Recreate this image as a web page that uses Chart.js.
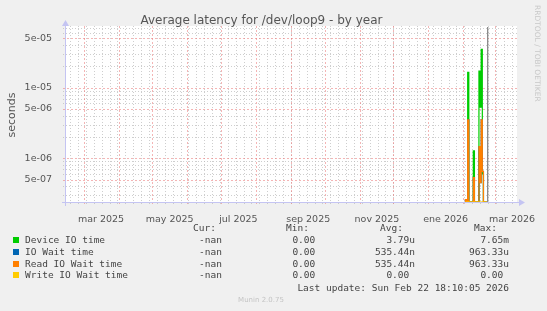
<!DOCTYPE html>
<html><head><meta charset="utf-8">
<script src="https://cdn.jsdelivr.net/npm/chart.js@4/dist/chart.umd.min.js"></script>
<style>html,body{margin:0;padding:0;background:#f0f0f0;}canvas{display:block;}</style>
</head><body>
<canvas id="c" width="547" height="311"></canvas>
<script>
// ---- data (x = end of each daily sample, in days since 2025-01-01) ----
const chartTitle = 'Average latency for /dev/loop9 - by year';
const yAxisTitle = 'seconds';
const monthStarts = [31, 59, 90, 120, 151, 181, 212, 243, 273, 304, 334, 365, 396, 424, 455];
const labelMonths = [59, 120, 181, 243, 304, 365, 424];
const tickLabels = ['mar 2025', 'may 2025', 'jul 2025', 'sep 2025', 'nov 2025', 'ene 2026', 'mar 2026'];
const yTickValues = [5e-5, 1e-5, 5e-6, 1e-6, 5e-7];
const yTickLabels = ['5e-05', '1e-05', '5e-06', '1e-06', '5e-07'];
const days      = [398, 399, 400, 401, 402, 403, 404, 405, 406, 407, 408, 409, 410, 411, 412, 413, 414, 415, 416, 417];
const deviceIO  = [0, 0, 0, 1.65e-5, 0, 0, 0, 0, 1.27e-6, 0, 0, 0, 0, 1.72e-5, 5.3e-6, 3.5e-5, 6e-7, 0, 0, 0];
const ioWait    = [0, 2.6e-7, 0, 3.5e-6, 0, 0, 0, 0, 5.3e-7, 0, 0, 0, 0, 1.46e-6, 4.5e-7, 3.5e-6, 6.5e-7, 0, 0, 0];
const readWait  = [0, 2.6e-7, 0, 3.5e-6, 0, 0, 0, 0, 5.3e-7, 0, 0, 0, 0, 1.46e-6, 4.5e-7, 3.5e-6, 6.5e-7, 0, 0, 0];
const writeWait = [0, 0, 0, 0, 0, 0, 0, 0, 0, 0, 0, 0, 0, 0, 0, 0, 0, 0, 0, 0];
const seriesNames = ['Device IO time', 'IO Wait time', 'Read IO Wait time', 'Write IO Wait time'];
const seriesColors = ['#00cc00', '#0066b3', '#ff8000', '#ffcc00'];
const curVals = ['-nan', '-nan', '-nan', '-nan'];
const minVals = ['0.00', '0.00', '0.00', '0.00'];
const avgVals = ['3.79u', '535.44n', '535.44n', '0.00'];
const maxVals = ['7.65m', '963.33u', '963.33u', '0.00'];
const lastUpdate = 'Last update: Sun Feb 22 18:10:05 2026';
const nowDay = 417.76;
const xRange = [43.3, 443.8];
const yRange = [2.4e-7, 7.48e-5];

// ---- styling ----
const LABEL_SHIFT = 15.4;
const FONT = 'DejaVu Sans';
const MONO = 'DejaVu Sans Mono';
const GRID_MINOR = 'rgba(185,185,185,0.7)';
const GRID_MAJOR = 'rgba(235,120,120,0.55)';
const AXIS_COL = '#c4c4f2';

const allSeries = [deviceIO, ioWait, readWait, writeWait];
// zero cannot be drawn on a log axis: it is placed on the axis floor, as rrdtool does
const datasets = allSeries.map((s, i) => ({
  label: seriesNames[i],
  data: days.map((d, j) => ({x: d, y: s[j] > 0 ? s[j] : yRange[0]})),
  borderColor: seriesColors[i],
  backgroundColor: seriesColors[i],
  borderWidth: 1.2,
  pointRadius: 0,
  stepped: 'after',
  order: 4 - i
}));

function seg(ctx, x1, y1, x2, y2) { ctx.beginPath(); ctx.moveTo(x1, y1); ctx.lineTo(x2, y2); ctx.stroke(); }

const deco = {
  id: 'deco',
  beforeDraw(chart) {
    const {ctx, chartArea: a} = chart;
    ctx.save();
    ctx.fillStyle = '#f0f0f0'; ctx.fillRect(0, 0, chart.width, chart.height);
    ctx.fillStyle = '#ffffff'; ctx.fillRect(a.left, a.top, a.right - a.left, a.bottom - a.top);
    ctx.restore();
  },
  beforeDatasetsDraw(chart) {
    const {ctx, chartArea: a, scales: {x, y}} = chart;
    ctx.save();
    ctx.lineWidth = 1;
    // minor vertical (weekly, Mondays)
    ctx.setLineDash([1, 2]);
    ctx.strokeStyle = GRID_MINOR;
    for (let d = 5; d <= x.max; d += 7) {
      if (d < x.min) continue;
      const px = Math.round(x.getPixelForValue(d)) + 0.5;
      seg(ctx, px, a.top, px, a.bottom + 3);
    }
    // minor horizontal
    for (let e = -8; e <= -4; e++) {
      for (const m of [2, 3, 4, 6, 7, 8, 9]) {
        const v = m * Math.pow(10, e);
        if (v < y.min || v > y.max) continue;
        const py = Math.round(y.getPixelForValue(v)) + 0.5;
        seg(ctx, a.left - 3, py, a.right, py);
      }
    }
    // major
    ctx.setLineDash([2, 2]);
    ctx.strokeStyle = GRID_MAJOR;
    for (const d of monthStarts) {
      if (d < x.min || d > x.max) continue;
      const px = Math.round(x.getPixelForValue(d)) + 0.5;
      seg(ctx, px, a.top, px, a.bottom + 3);
    }
    for (let e = -8; e <= -4; e++) {
      for (const m of [1, 5]) {
        const v = m * Math.pow(10, e);
        if (v < y.min || v > y.max) continue;
        const py = Math.round(y.getPixelForValue(v)) + 0.5;
        seg(ctx, a.left - 3, py, a.right + 1, py);
      }
    }
    ctx.restore();
  },
  afterDatasetsDraw(chart) {
    const {ctx, chartArea: a, scales: {x}} = chart;
    ctx.save();
    // now line
    ctx.strokeStyle = '#8a8a8a'; ctx.lineWidth = 1.3;
    const nx = x.getPixelForValue(nowDay);
    seg(ctx, nx, a.top + 1, nx, a.bottom);
    // axes
    ctx.strokeStyle = AXIS_COL; ctx.lineWidth = 1;
    seg(ctx, a.left - 4, a.bottom + 0.5, a.right + 3, a.bottom + 0.5);
    seg(ctx, a.left - 0.5, a.bottom + 4, a.left - 0.5, a.top - 1);
    ctx.fillStyle = AXIS_COL;
    ctx.beginPath(); ctx.moveTo(a.right + 8, a.bottom + 0.5); ctx.lineTo(a.right + 2, a.bottom - 3); ctx.lineTo(a.right + 2, a.bottom + 4); ctx.closePath(); ctx.fill();
    ctx.beginPath(); ctx.moveTo(a.left - 0.5, a.top - 6); ctx.lineTo(a.left - 4, a.top); ctx.lineTo(a.left + 3, a.top); ctx.closePath(); ctx.fill();
    ctx.restore();
  },
  afterDraw(chart) {
    const ctx = chart.ctx;
    ctx.save();
    // title
    ctx.fillStyle = '#555'; ctx.font = `12px "${FONT}"`; ctx.textAlign = 'center'; ctx.textBaseline = 'alphabetic';
    ctx.fillText(chartTitle, 261.5, 24);
    // y axis title
    ctx.save(); ctx.translate(15, 115); ctx.rotate(-Math.PI / 2);
    ctx.font = `11px "${FONT}"`; ctx.fillText(yAxisTitle, 0, 0); ctx.restore();
    // rrdtool credit
    ctx.save(); ctx.translate(535, 5); ctx.rotate(Math.PI / 2);
    ctx.fillStyle = '#c8c8c8'; ctx.font = `7.5px "${FONT}"`; ctx.textAlign = 'left';
    ctx.fillText('RRDTOOL / TOBI OETIKER', 0, 0); ctx.restore();
    // legend
    ctx.font = `9.5px "${MONO}"`; ctx.fillStyle = '#444';
    ctx.textAlign = 'right';
    ctx.fillText('Cur:', 216, 231); ctx.fillText('Min:', 309, 231);
    ctx.fillText('Avg:', 403, 231); ctx.fillText('Max:', 497, 231);
    const sfx = v => /[a-zA-Z]$/.test(v) && v !== '-nan' ? v : v + ' ';
    for (let i = 0; i < seriesNames.length; i++) {
      const by = 243.3 + i * 11.67;
      ctx.fillStyle = seriesColors[i];
      ctx.fillRect(13, Math.round(by - 6), 6, 6);
      ctx.fillStyle = '#444';
      ctx.textAlign = 'left'; ctx.fillText(seriesNames[i], 25, by);
      ctx.textAlign = 'right';
      ctx.fillText(curVals[i], 222, by);
      ctx.fillText(sfx(minVals[i]), 321, by);
      ctx.fillText(sfx(avgVals[i]), 415, by);
      ctx.fillText(sfx(maxVals[i]), 509, by);
    }
    ctx.fillText(lastUpdate, 509, 290.7);
    ctx.textAlign = 'center'; ctx.fillStyle = '#c4c4c4'; ctx.font = `7px "${FONT}"`;
    ctx.fillText('Munin 2.0.75', 261, 302);
    ctx.restore();
  }
};

new Chart(document.getElementById('c'), {
  type: 'line',
  data: {datasets},
  plugins: [deco],
  options: {
    responsive: false, devicePixelRatio: 1, animation: false,
    layout: {padding: {top: 26, right: 30, left: 0, bottom: 0}},
    plugins: {legend: {display: false}, tooltip: {enabled: false}, title: {display: false}},
    scales: {
      x: {
        type: 'linear', min: xRange[0], max: xRange[1],
        grid: {display: false}, border: {display: false},
        afterBuildTicks: s => { s.ticks = labelMonths.map(d => ({value: d + LABEL_SHIFT})); },
        afterFit: s => { s.height = 109; },
        ticks: {autoSkip: false, maxRotation: 0, padding: 4, color: '#555', font: {family: FONT, size: 9.5},
          callback: (v, i) => tickLabels[i]}
      },
      y: {
        type: 'logarithmic', min: yRange[0], max: yRange[1],
        grid: {display: false}, border: {display: false},
        afterBuildTicks: s => { s.ticks = yTickValues.map(v => ({value: v})); },
        afterFit: s => { s.width = 66; },
        ticks: {autoSkip: false, padding: 6, color: '#555', font: {family: FONT, size: 9.5},
          callback: (v, i) => yTickLabels[i]}
      }
    }
  }
});
</script>
</body></html>
